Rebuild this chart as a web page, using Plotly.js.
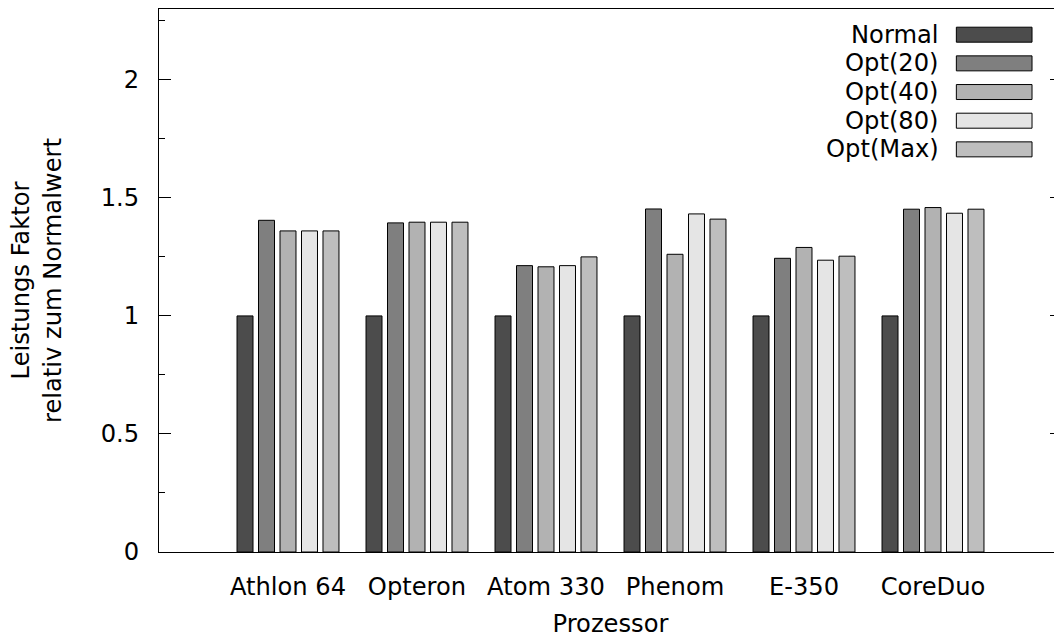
<!DOCTYPE html>
<html>
<head>
<meta charset="utf-8">
<script src="https://cdn.plot.ly/plotly-3.0.1.min.js"></script>
<style>
html, body { margin: 0; padding: 0; overflow: hidden; background: #fff; }
#chart { width: 1066px; height: 639px; }
</style>
</head>
<body>
<div id="chart"></div>
<script>
const categories = ["Athlon 64", "Opteron", "Atom 330", "Phenom", "E-350", "CoreDuo"];
const seriesNames = ["Normal", "Opt(20)", "Opt(40)", "Opt(80)", "Opt(Max)"];
const normal = [1, 1, 1, 1, 1, 1];
const opt20  = [1.405, 1.394, 1.213, 1.453, 1.244, 1.452];
const opt40  = [1.360, 1.397, 1.208, 1.261, 1.290, 1.459];
const opt80  = [1.360, 1.397, 1.213, 1.432, 1.236, 1.435];
const optMax = [1.360, 1.397, 1.250, 1.410, 1.253, 1.452];
const seriesColors = ["#4c4c4c", "#7f7f7f", "#b2b2b2", "#e5e5e5", "#bebebe"];
const yTickVals = [0, 0.5, 1, 1.5, 2];
const yTickText = ["0", "0.5", "1", "1.5", "2"];

const seriesValues = [normal, opt20, opt40, opt80, optMax];
const FONT = "DejaVu Sans, sans-serif";
const FS = 24.2;

const traces = seriesValues.map((vals, i) => ({
  type: "bar",
  name: seriesNames[i],
  x: categories,
  y: vals,
  marker: { color: seriesColors[i], line: { color: "#000", width: 1 } },
  showlegend: false,
  hoverinfo: "skip"
}));

// Manual legend (text right-aligned, swatch on the right), built from the series arrays
const shapes = [];
const annotations = [];
const legTop = 0.9527, legStep = 0.0528, swH = 0.0138;
seriesNames.forEach((name, i) => {
  const yc = legTop - i * legStep;
  shapes.push({
    type: "rect", xref: "paper", yref: "paper",
    x0: 0.883, x1: 0.9668, y0: yc - swH, y1: yc + swH,
    fillcolor: seriesColors[i], line: { color: "#000", width: 1 }
  });
  annotations.push({
    xref: "paper", yref: "paper", x: 0.8655, y: yc,
    xanchor: "right", yanchor: "middle", showarrow: false,
    text: name, font: { family: FONT, size: FS, color: "#000" }
  });
});

const layout = {
  width: 1066, height: 639, autosize: false,
  margin: { l: 159, r: 4, t: 9, b: 87 },
  paper_bgcolor: "#fff", plot_bgcolor: "#fff",
  font: { family: FONT, size: FS, color: "#000" },
  barmode: "group",
  bargap: 0.167,
  bargroupgap: 0.256,
  xaxis: {
    type: "category",
    range: [-1, 6],
    showline: true, linecolor: "#000", linewidth: 1, mirror: true,
    ticks: "", showgrid: false, zeroline: false,
    ticklabelstandoff: 13,
    tickfont: { family: FONT, size: FS, color: "#000" },
    title: { text: "Prozessor", font: { family: FONT, size: FS, color: "#000" }, standoff: 15 },
    automargin: false
  },
  yaxis: {
    range: [0, 2.3],
    tickmode: "array", tickvals: yTickVals, ticktext: yTickText,
    ticks: "inside", ticklen: 12, tickwidth: 1, tickcolor: "#000",
    minor: { dtick: 0.25, tick0: 0, ticks: "inside", ticklen: 6, tickwidth: 1, tickcolor: "#000", showgrid: false },
    showline: true, linecolor: "#000", linewidth: 1, mirror: "allticks",
    showgrid: false, zeroline: false,
    ticklabelstandoff: 14,
    tickfont: { family: FONT, size: FS, color: "#000" },
    title: { text: "Leistungs Faktor<br>relativ zum Normalwert", font: { family: FONT, size: FS, color: "#000" }, standoff: 32 },
    automargin: true
  },
  shapes: shapes,
  annotations: annotations
};

Plotly.newPlot("chart", traces, layout, { displayModeBar: false, staticPlot: true });
</script>
</body>
</html>
